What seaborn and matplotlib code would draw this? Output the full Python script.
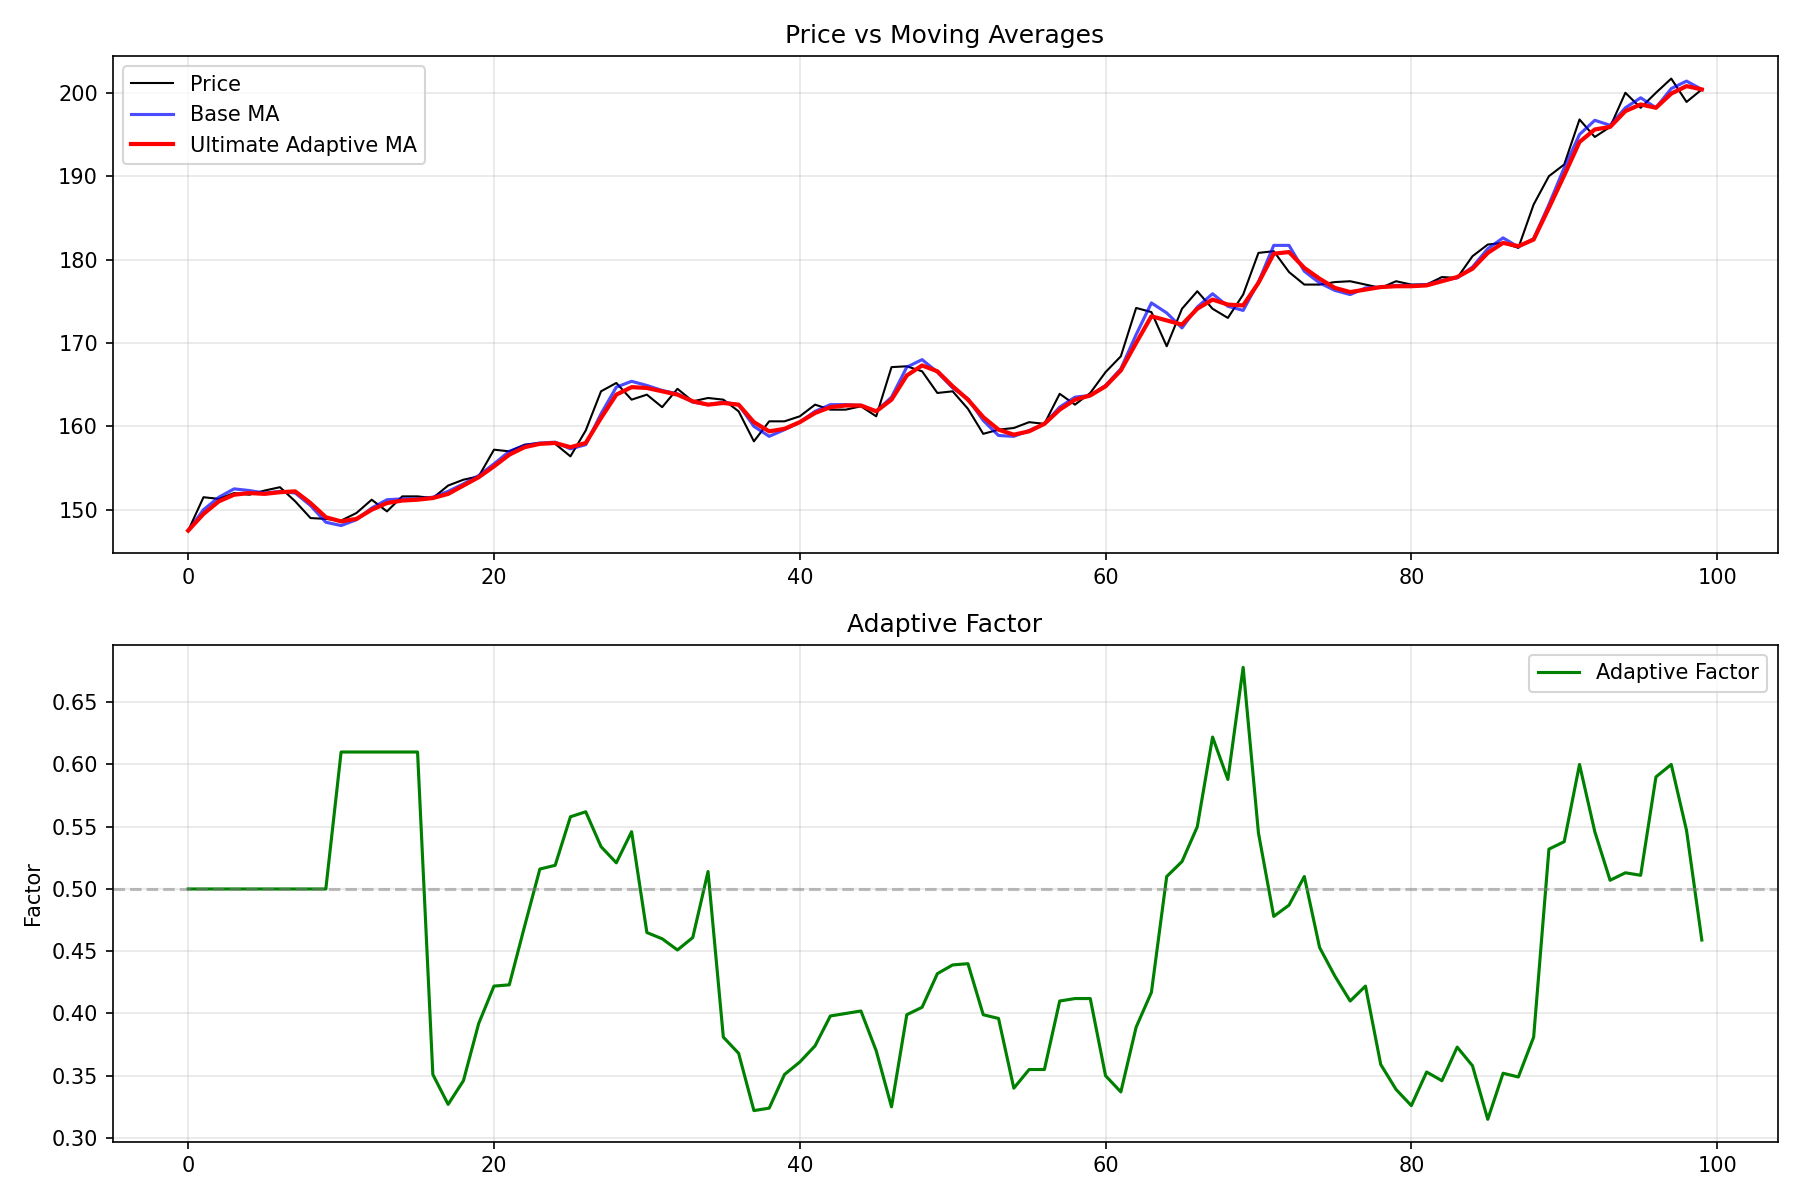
import numpy as np
import pandas as pd
import matplotlib
matplotlib.use("Agg")
import matplotlib.pyplot as plt
import seaborn as sns

price = [147.5, 151.5, 151.3, 152.0, 151.8, 152.3, 152.7, 151.0, 149.0, 148.9,
         148.7, 149.6, 151.2, 149.8, 151.6, 151.6, 151.4, 152.9, 153.6, 154.0,
         157.2, 157.0, 157.8, 158.0, 157.9, 156.4, 159.5, 164.2, 165.2, 163.2,
         163.8, 162.3, 164.5, 163.0, 163.4, 163.2, 161.8, 158.2, 160.6, 160.6,
         161.2, 162.6, 162.0, 162.0, 162.4, 161.2, 167.1, 167.2, 166.6, 164.0,
         164.2, 162.1, 159.1, 159.6, 159.8, 160.5, 160.3, 163.9, 162.6, 164.0,
         166.5, 168.4, 174.2, 173.7, 169.6, 174.1, 176.2, 174.1, 173.0, 175.8,
         180.8, 181.0, 178.5, 177.0, 177.0, 177.3, 177.4, 177.0, 176.6, 177.4,
         177.0, 177.0, 177.9, 177.8, 180.4, 181.8, 182.0, 181.4, 186.6, 190.0,
         191.4, 196.8, 194.7, 195.9, 200.0, 198.2, 200.0, 201.7, 198.9, 200.4]

base_ma = [147.5, 150.0, 151.5, 152.5, 152.3, 152.0, 152.2, 152.0, 150.5, 148.5,
           148.1, 148.8, 150.2, 151.2, 151.3, 151.3, 151.5, 152.2, 153.1, 154.1,
           155.5, 157.0, 157.7, 158.0, 158.1, 157.3, 157.8, 161.5, 164.7, 165.4,
           164.9, 164.3, 163.9, 162.9, 162.6, 162.9, 162.6, 160.0, 158.8, 159.6,
           160.5, 161.8, 162.6, 162.6, 162.5, 161.8, 163.5, 167.1, 168.0, 166.5,
           164.6, 163.3, 160.7, 158.9, 158.8, 159.5, 160.3, 162.3, 163.5, 163.7,
           164.9, 166.9, 171.0, 174.8, 173.6, 171.8, 174.3, 175.9, 174.4, 173.9,
           177.3, 181.7, 181.7, 178.6, 177.2, 176.3, 175.8, 176.6, 176.7, 176.9,
           176.9, 177.0, 177.5, 177.8, 179.1, 181.3, 182.6, 181.5, 182.5, 186.6,
           191.0, 195.0, 196.7, 196.1, 198.2, 199.4, 198.2, 200.5, 201.4, 200.4]

ultimate_ma = [147.5, 149.5, 151.0, 151.8, 152.0, 151.9, 152.1, 152.2, 150.8, 149.1,
               148.6, 148.9, 150.0, 150.8, 151.1, 151.2, 151.4, 151.9, 152.9, 153.9,
               155.2, 156.6, 157.5, 157.9, 158.0, 157.5, 158.0, 161.0, 163.8, 164.7,
               164.6, 164.2, 163.8, 163.0, 162.6, 162.8, 162.6, 160.5, 159.4, 159.7,
               160.5, 161.6, 162.3, 162.5, 162.5, 161.8, 163.2, 166.1, 167.3, 166.6,
               164.8, 163.2, 161.1, 159.6, 159.0, 159.4, 160.3, 162.0, 163.2, 163.7,
               164.8, 166.7, 170.0, 173.2, 172.7, 172.2, 174.1, 175.2, 174.6, 174.5,
               177.2, 180.7, 180.9, 179.0, 177.7, 176.6, 176.1, 176.4, 176.7, 176.8,
               176.8, 176.9, 177.4, 177.9, 178.9, 180.8, 182.0, 181.6, 182.4, 186.2,
               190.1, 194.1, 195.6, 195.9, 197.8, 198.6, 198.2, 199.9, 200.8, 200.4]

adaptive_factor = [0.5] * 10 + [0.61] * 6 + [
    0.351, 0.327, 0.346, 0.392, 0.422, 0.423, 0.470, 0.516, 0.519, 0.558,
    0.562, 0.534, 0.521, 0.546, 0.465, 0.460, 0.451, 0.461, 0.514, 0.381,
    0.368, 0.322, 0.324, 0.351, 0.361, 0.374, 0.398, 0.400, 0.402, 0.370,
    0.325, 0.399, 0.405, 0.432, 0.439, 0.440, 0.399, 0.396, 0.340, 0.355,
    0.355, 0.410, 0.412, 0.412, 0.350, 0.337, 0.389, 0.417, 0.510, 0.522,
    0.550, 0.622, 0.588, 0.678, 0.545, 0.478, 0.487, 0.510, 0.453, 0.430,
    0.410, 0.422, 0.359, 0.339, 0.326, 0.353, 0.346, 0.373, 0.358, 0.315,
    0.352, 0.349, 0.381, 0.532, 0.538, 0.600, 0.546, 0.507, 0.513, 0.511,
    0.590, 0.600, 0.547, 0.459]

idx = np.arange(len(price))

fig, (ax1, ax2) = plt.subplots(2, 1, figsize=(12, 8))

sns.lineplot(x=idx, y=price, ax=ax1, color="black", linewidth=1, label="Price")
sns.lineplot(x=idx, y=base_ma, ax=ax1, color="blue", linewidth=1.5, alpha=0.7, label="Base MA")
sns.lineplot(x=idx, y=ultimate_ma, ax=ax1, color="red", linewidth=2, label="Ultimate Adaptive MA")
ax1.set_title("Price vs Moving Averages")
ax1.legend(loc="upper left")
ax1.grid(True, alpha=0.3)

sns.lineplot(x=idx, y=adaptive_factor, ax=ax2, color="green", linewidth=1.5, label="Adaptive Factor")
ax2.axhline(0.5, color="gray", linestyle="--", alpha=0.5)
ax2.set_title("Adaptive Factor")
ax2.set_ylabel("Factor")
ax2.legend(loc="upper right")
ax2.grid(True, alpha=0.3)

plt.tight_layout()
plt.savefig("out.png", dpi=150)
